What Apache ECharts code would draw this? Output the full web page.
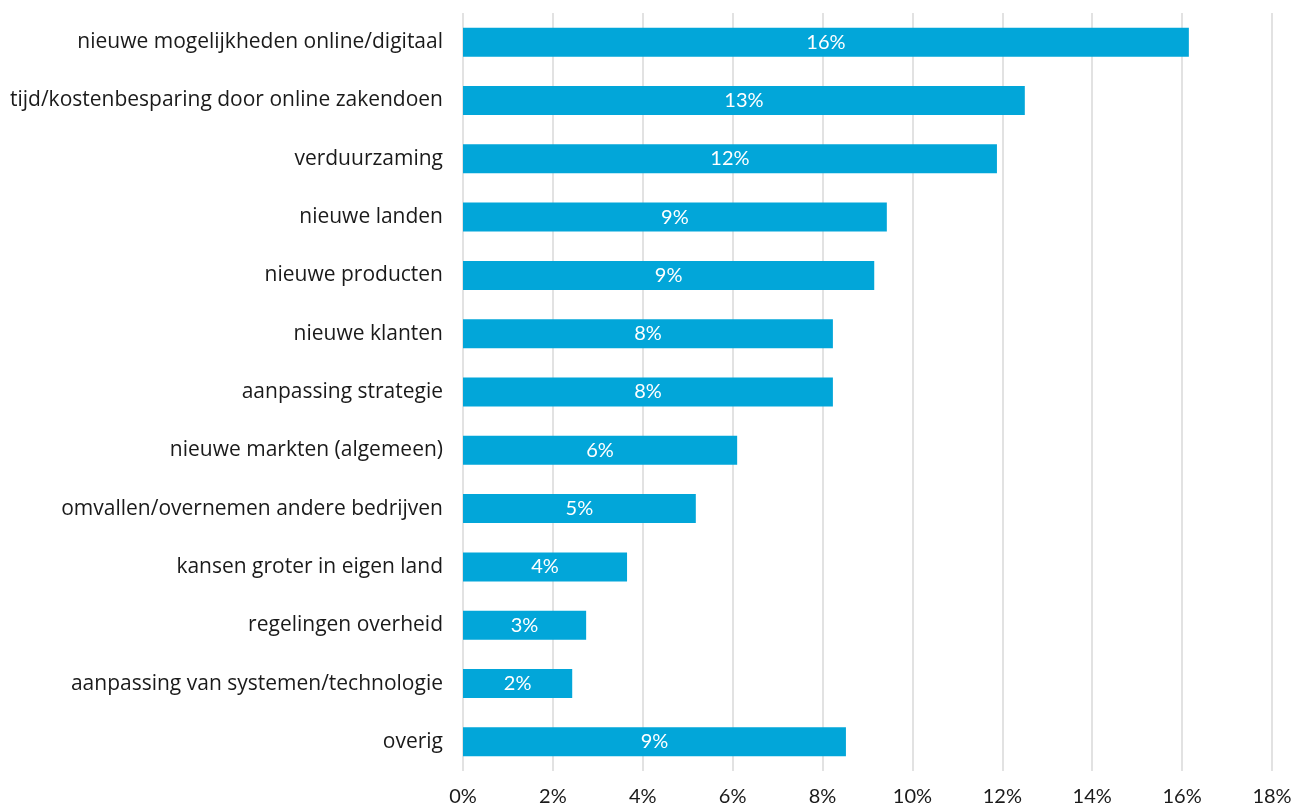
<!DOCTYPE html>
<html><head><meta charset="utf-8">
<script src="https://cdn.jsdelivr.net/npm/echarts@6/dist/echarts.min.js"></script>
<style>html,body{margin:0;padding:0;background:#fff}#c{width:1307px;height:810px}</style>
</head><body><div id="c"></div>
<script>
const categories = [
  "nieuwe mogelijkheden online/digitaal",
  "tijd/kostenbesparing door online zakendoen",
  "verduurzaming",
  "nieuwe landen",
  "nieuwe producten",
  "nieuwe klanten",
  "aanpassing strategie",
  "nieuwe markten (algemeen)",
  "omvallen/overnemen andere bedrijven",
  "kansen groter in eigen land",
  "regelingen overheid",
  "aanpassing van systemen/technologie",
  "overig"
];
const values = [16.15, 12.5, 11.88, 9.43, 9.15, 8.23, 8.23, 6.1, 5.18, 3.65, 2.74, 2.43, 8.52];
const valueLabels = ["16%", "13%", "12%", "9%", "9%", "8%", "8%", "6%", "5%", "4%", "3%", "2%", "9%"];
const tickMax = 18;

const chart = echarts.init(document.getElementById('c'));
chart.setOption({
  animation: false,
  grid: { left: 463, right: 35, top: 13, bottom: 39, containLabel: false },
  xAxis: {
    type: 'value', min: 0, max: tickMax, interval: 2,
    axisLine: { show: false }, axisTick: { show: false },
    axisLabel: { formatter: v => v + '%', color: '#1a1a1a', fontSize: 20, fontFamily: 'Lato', margin: 16 },
    splitLine: { lineStyle: { color: '#d9d9d9', width: 1.5 } }
  },
  yAxis: {
    type: 'category', data: categories, inverse: true,
    axisLine: { show: false }, axisTick: { show: false },
    axisLabel: { color: '#1a1a1a', fontSize: 21, fontFamily: 'Open Sans', margin: 20 }
  },
  series: [{
    type: 'bar', data: values, barWidth: 29,
    itemStyle: { color: '#02a6d9' },
    label: { show: true, position: 'inside', color: '#fff', fontSize: 20, fontFamily: 'Lato',
      formatter: p => valueLabels[p.dataIndex] }
  }]
});
</script></body></html>
